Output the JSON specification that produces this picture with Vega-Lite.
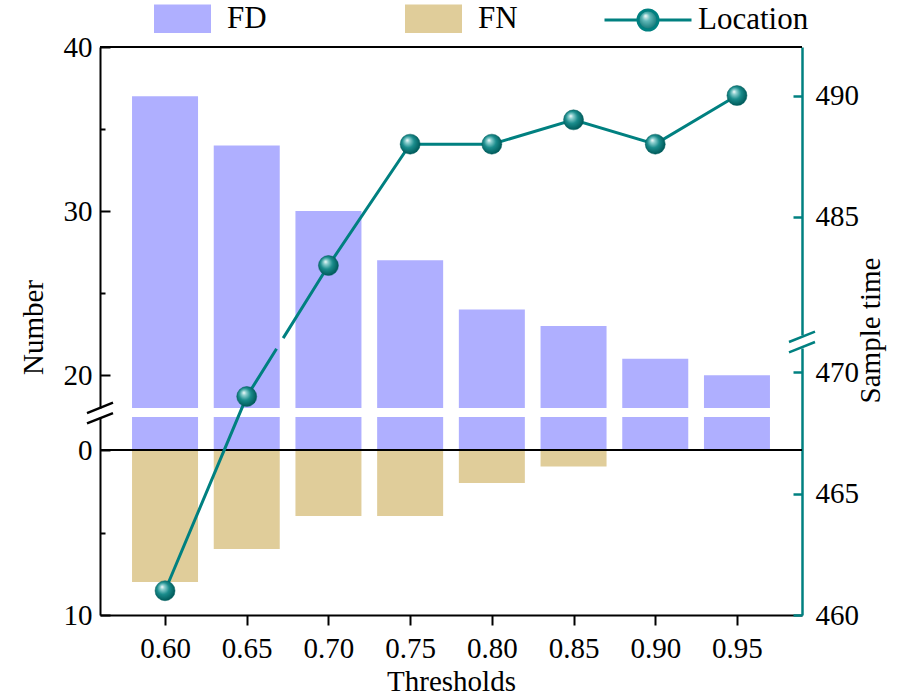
{
  "$schema": "https://vega.github.io/schema/vega-lite/v6.json",
  "width": 702,
  "height": 568,
  "autosize": {"type": "none"},
  "padding": {"left": 100, "top": 47, "right": 100, "bottom": 85},
  "config": {
    "font": "Liberation Serif",
    "view": {"stroke": null},
    "scale": {"continuousPadding": 0},
    "axis": {
      "grid": false,
      "labelFont": "Liberation Serif",
      "labelFontSize": 29,
      "labelColor": "black",
      "titleFont": "Liberation Serif",
      "titleFontSize": 29,
      "titleFontWeight": "normal",
      "titleColor": "black",
      "domainColor": "black",
      "domainWidth": 2,
      "tickColor": "black",
      "tickWidth": 2
    },
    "legend": {"labelFont": "Liberation Serif", "labelFontSize": 31, "labelColor": "black", "padding": 0}
  },
  "datasets": {
    "d": [
      {"t": 0.60, "FD": 37, "FN": 8, "time": 461},
      {"t": 0.65, "FD": 34, "FN": 6, "time": 469},
      {"t": 0.70, "FD": 30, "FN": 4, "time": 483},
      {"t": 0.75, "FD": 27, "FN": 4, "time": 488},
      {"t": 0.80, "FD": 24, "FN": 2, "time": 488},
      {"t": 0.85, "FD": 23, "FN": 1, "time": 489},
      {"t": 0.90, "FD": 21, "FN": 0, "time": 488},
      {"t": 0.95, "FD": 20, "FN": 0, "time": 490}
    ]
  },
  "data": {"name": "d"},
  "resolve": {"scale": {"y": "independent"}},
  "layer": [
    {
      "layer": [
        {
          "mark": {"type": "bar", "size": 66},
          "encoding": {
            "x": {
              "field": "t", "type": "quantitative",
              "scale": {"domain": [0.5602, 0.9898], "nice": false, "zero": false, "padding": 0},
              "axis": {"values": [0.6, 0.65, 0.7, 0.75, 0.8, 0.85, 0.9, 0.95], "format": ".2f", "tickSize": 10, "labelPadding": 9, "title": "Thresholds", "titleY": 75, "titleBaseline": "alphabetic"}
            },
            "y": {
              "field": "FD", "type": "quantitative",
              "scale": {"domain": [18, 40], "range": [361, 0], "clamp": true, "nice": false, "zero": false},
              "axis": {"orient": "left", "values": [20, 30, 40], "tickSize": -10, "labelPadding": 18, "title": "Number", "titleAngle": 270, "titleX": -67, "titleY": 280, "titleBaseline": "middle", "titleAlign": "center"}
            },
            "y2": {"datum": 0},
            "color": {
              "datum": "FD",
              "scale": {"domain": ["FD", "FN"], "range": ["#AFAFFF", "#E0CD9A"]},
              "legend": {"orient": "none", "legendX": 54, "legendY": -57, "direction": "horizontal", "title": null, "symbolType": "M-1,-0.5H1V0.5H-1Z", "symbolSize": 3249, "symbolStrokeWidth": 0, "labelOffset": 16, "columnPadding": 138}
            }
          }
        },
        {
          "mark": {"type": "rule", "color": "black", "strokeWidth": 1},
          "encoding": {"y": {"datum": 40}}
        }
      ]
    },
    {
      "mark": {"type": "bar", "size": 66},
      "encoding": {
        "x": {"field": "t", "type": "quantitative", "scale": {"domain": [0.5602, 0.9898], "nice": false, "zero": false, "padding": 0}},
        "y": {
          "field": "FD", "type": "quantitative",
          "scale": {"domain": [0, 2], "range": [403, 370], "clamp": true, "nice": false, "zero": false},
          "axis": null
        },
        "y2": {"datum": 0},
        "color": {"datum": "FD"}
      }
    },
    {
      "layer": [
        {
          "mark": {"type": "bar", "size": 66},
          "encoding": {
            "x": {"field": "t", "type": "quantitative", "scale": {"domain": [0.5602, 0.9898], "nice": false, "zero": false, "padding": 0}},
            "y": {
              "field": "FN", "type": "quantitative",
              "scale": {"domain": [-2, 10], "range": [370, 568], "nice": false, "zero": false},
              "axis": {"orient": "left", "values": [0, 10], "tickSize": -10, "labelPadding": 18, "title": null}
            },
            "y2": {"datum": 0},
            "color": {"datum": "FN"}
          }
        },
        {
          "mark": {"type": "rule", "color": "black", "strokeWidth": 1.5},
          "encoding": {"y": {"datum": 0}}
        },
        {
          "data": {"values": [{}]},
          "mark": {"type": "point", "shape": "M-1,0L1,-0.8M-1,0.8L1,0", "size": 676, "filled": false, "stroke": "black", "strokeWidth": 2.5, "opacity": 1},
          "encoding": {
            "x": {"datum": 0.5602, "type": "quantitative", "scale": {"domain": [0.5602, 0.9898], "nice": false, "zero": false, "padding": 0}},
            "y": {"datum": -2.24}
          }
        }
      ]
    },
    {
      "layer": [
        {
          "mark": {"type": "line", "strokeWidth": 3, "strokeDash": [267, 12.5, 3000]},
          "encoding": {
            "x": {"field": "t", "type": "quantitative", "scale": {"domain": [0.5602, 0.9898], "nice": false, "zero": false, "padding": 0}},
            "y": {
              "field": "time", "type": "quantitative",
              "scale": {"domain": [460, 471, 480.14, 492], "range": [568, 301, 288, 0], "nice": false, "zero": false},
              "axis": null
            },
            "stroke": {
              "datum": "Location",
              "scale": {"range": ["#008080"]},
              "legend": {
                "orient": "none", "legendX": 503, "legendY": -72, "direction": "horizontal", "title": null,
                "symbolType": "M-1,0L-0.23,0M0.23,0L1,0M0.23,0A0.23,0.23,0,1,1,-0.23,0A0.23,0.23,0,1,1,0.23,0Z",
                "symbolSize": 7569, "symbolStrokeWidth": 3, "symbolFillColor": "#008080", "labelOffset": 5,
                "encode": {"symbols": {"update": {"fill": {"value": {"gradient": "radial", "x1": 0.47, "y1": 0.45, "r1": 0, "x2": 0.5, "y2": 0.5, "r2": 0.13,
                  "stops": [{"offset": 0, "color": "#ffffff"}, {"offset": 0.35, "color": "#5fb8b8"}, {"offset": 1, "color": "#006666"}]}}}}}
              }
            }
          }
        },
        {
          "mark": {
            "type": "point", "filled": true, "size": 400, "opacity": 1, "stroke": "#005c5c", "strokeWidth": 0.5,
            "fill": {"gradient": "radial", "x1": 0.35, "y1": 0.3, "r1": 0, "x2": 0.45, "y2": 0.45, "r2": 0.55,
              "stops": [{"offset": 0, "color": "#ffffff"}, {"offset": 0.2, "color": "#8fd0d0"}, {"offset": 0.55, "color": "#1a8c8c"}, {"offset": 1, "color": "#005a5a"}]}
          },
          "encoding": {
            "x": {"field": "t", "type": "quantitative", "scale": {"domain": [0.5602, 0.9898], "nice": false, "zero": false, "padding": 0}},
            "y": {"field": "time", "type": "quantitative"}
          }
        },
        {
          "data": {"values": [{}]},
          "mark": {"type": "point", "shape": "M-1,0L1,-0.8M-1,0.8L1,0", "size": 676, "filled": false, "stroke": "#008080", "strokeWidth": 2.5, "opacity": 1},
          "encoding": {
            "x": {"datum": 0.9898, "type": "quantitative", "scale": {"domain": [0.5602, 0.9898], "nice": false, "zero": false, "padding": 0}},
            "y": {"datum": 475.2}
          }
        }
      ]
    },
    {
      "mark": {"type": "point", "opacity": 0},
      "encoding": {
        "x": {"field": "t", "type": "quantitative", "scale": {"domain": [0.5602, 0.9898], "nice": false, "zero": false, "padding": 0}},
        "y": {
          "field": "time", "type": "quantitative",
          "scale": {"domain": [480.14, 492], "range": [288, 0], "nice": false, "zero": false},
          "axis": {"orient": "right", "values": [485, 490], "tickSize": -9, "labelPadding": 22, "domainColor": "#008080", "tickColor": "#008080", "domainWidth": 2.5, "tickWidth": 2.5, "title": "Sample time", "titleAngle": 270, "titleX": 68, "titleY": 283, "titleBaseline": "middle", "titleAlign": "center"}
        }
      }
    },
    {
      "mark": {"type": "point", "opacity": 0},
      "encoding": {
        "x": {"field": "t", "type": "quantitative", "scale": {"domain": [0.5602, 0.9898], "nice": false, "zero": false, "padding": 0}},
        "y": {
          "field": "time", "type": "quantitative",
          "scale": {"domain": [460, 471], "range": [568, 301], "nice": false, "zero": false},
          "axis": {"orient": "right", "values": [460, 465, 470], "tickSize": -9, "labelPadding": 22, "domainColor": "#008080", "tickColor": "#008080", "domainWidth": 2.5, "tickWidth": 2.5, "title": null}
        }
      }
    },
    {
      "mark": {"type": "point", "opacity": 0},
      "encoding": {
        "x": {"field": "t", "type": "quantitative", "scale": {"domain": [0.5602, 0.9898], "nice": false, "zero": false, "padding": 0}},
        "y": {
          "field": "FD", "type": "quantitative",
          "scale": {"domain": [18, 40], "range": [361, 0], "nice": false, "zero": false},
          "axis": {"orient": "left", "values": [25, 35], "labels": false, "domain": false, "tickSize": -5, "title": null}
        }
      }
    },
    {
      "mark": {"type": "point", "opacity": 0},
      "encoding": {
        "x": {"field": "t", "type": "quantitative", "scale": {"domain": [0.5602, 0.9898], "nice": false, "zero": false, "padding": 0}},
        "y": {
          "field": "FN", "type": "quantitative",
          "scale": {"domain": [-2, 10], "range": [370, 568], "nice": false, "zero": false},
          "axis": {"orient": "left", "values": [5], "labels": false, "domain": false, "tickSize": -5, "title": null}
        }
      }
    }
  ]
}
